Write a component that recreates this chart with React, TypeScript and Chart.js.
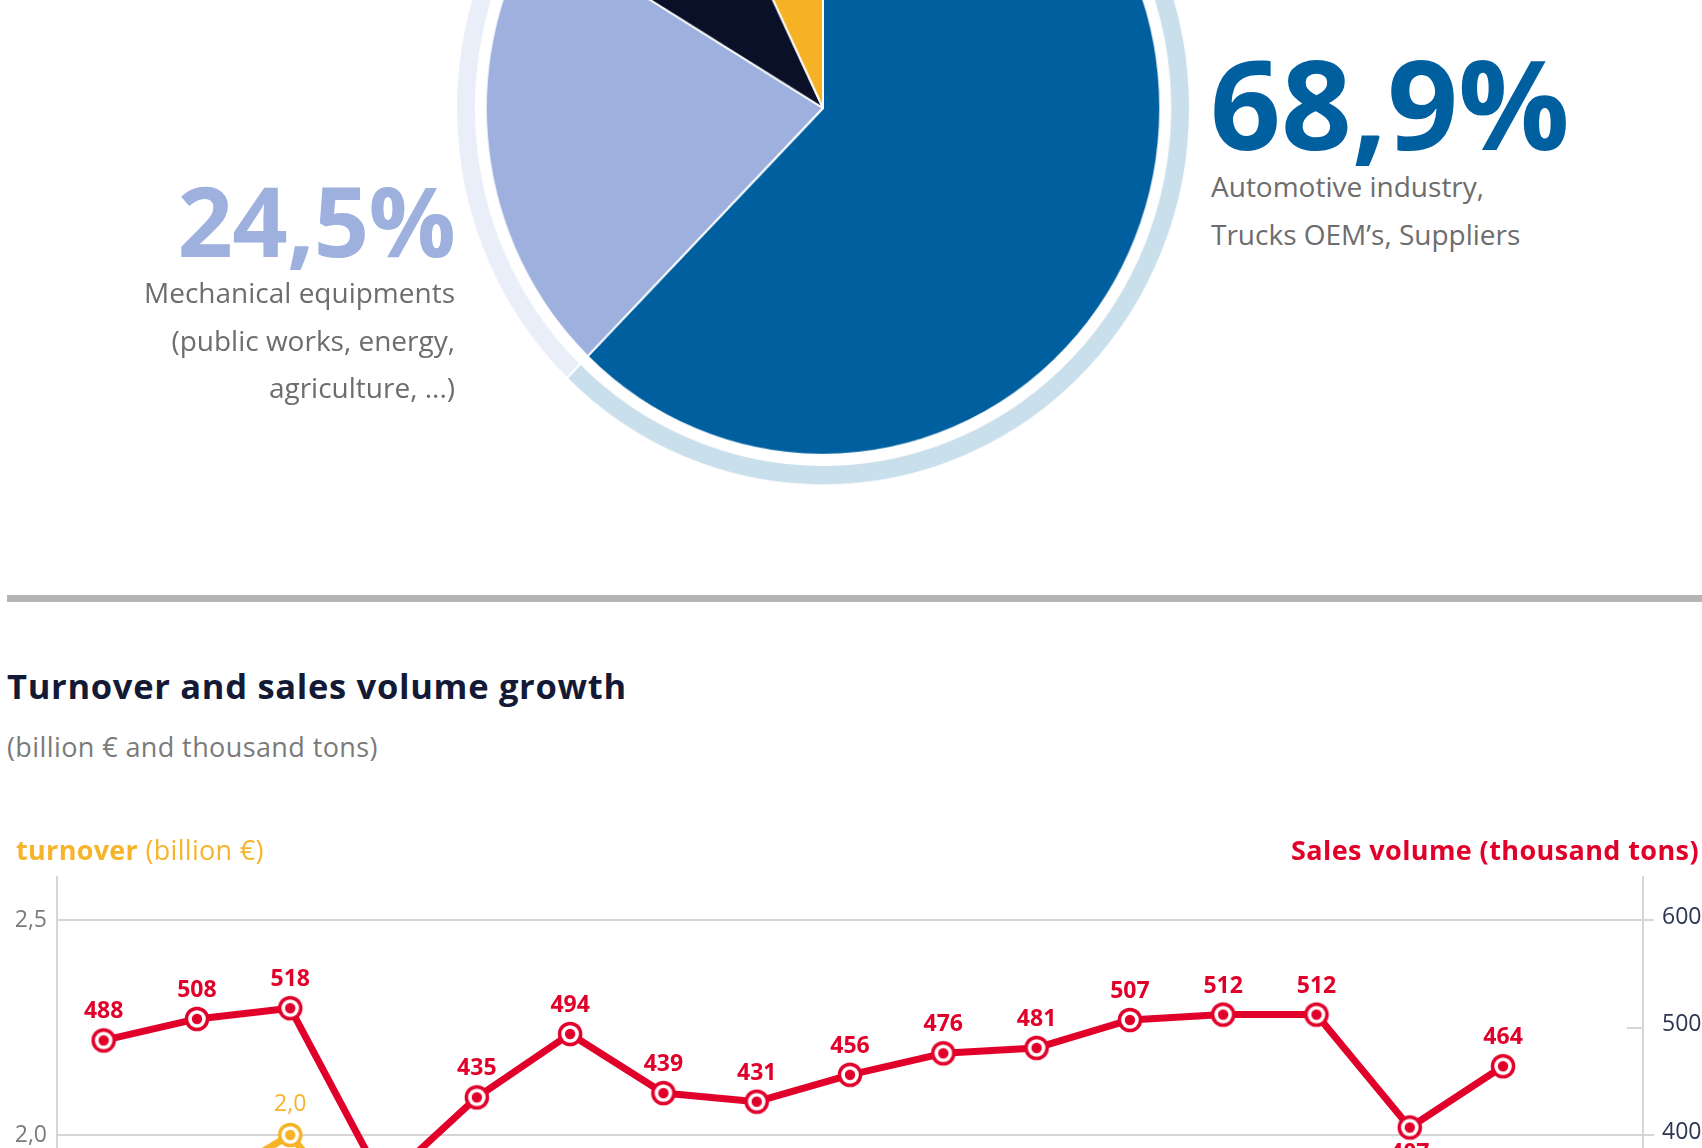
import React, { useEffect, useRef } from "react";
import { Chart, registerables } from "chart.js";

Chart.register(...registerables);

const PAGE_W = 1702;
const PAGE_H = 1148;
const FONT = '"Open Sans", "Noto Sans", sans-serif';

// ---------- Sector split (pie) ----------
const sectorNames = [
  "Automotive industry, Trucks OEM’s, Suppliers",
  "Mechanical equipments (public works, energy, agriculture, ...)",
  "Other industries",
  "Other",
];
// shares as drawn in the picture (angles of the visible slice edges)
const sectorShares = [62.3, 21.4, 9.25, 7.05];
const autoShareText = "68,9%";
const mechShareText = "24,5%";
const autoLines = ["Automotive industry,", "Trucks OEM’s, Suppliers"];
const mechLines = ["Mechanical equipments", "(public works, energy,", "agriculture, ...)"];

const sliceColors = ["#005f9f", "#9eb0dd", "#0b1029", "#f4b224"];
const ringColors = ["#c9dfec", "#e9eef8", "#d6d9e1", "#fbeac4"];

// ---------- Turnover & sales volume ----------
const years = [
  "2006", "2007", "2008", "2009", "2010", "2011", "2012", "2013", "2014",
  "2015", "2016", "2017", "2018", "2019", "2020", "2021", "2022",
];
const salesVolume = [488, 508, 518, 355, 435, 494, 439, 431, 456, 476, 481, 507, 512, 512, 407, 464];
// only the part of the turnover line that is visible in the picture
const turnover: (number | null)[] = [null, 1.87, 2.0, 1.73, null, null, null, null, null, null, null, null, null, null, null, null];
const innerTickValues = [500];

const RED = "#e1002a";
const YELLOW = "#f5b325";
const YELLOW_TEXT = "#f6b42c";
const GRID = "#d6d6d6";

type TxtProps = {
  left?: number;
  right?: number;
  baseline: number;
  size: number;
  lh?: number;
  weight?: number;
  color: string;
  ls?: number;
  align?: "left" | "right";
  children: React.ReactNode;
};

function Txt({ left, right, baseline, size, lh, weight = 400, color, ls = 0, align = "left", children }: TxtProps) {
  const L = lh ?? Math.round(size * 1.2);
  const top = baseline - ((L - 1.362 * size) / 2 + 1.069 * size);
  const style: React.CSSProperties = {
    position: "absolute",
    top,
    fontFamily: FONT,
    fontSize: size,
    lineHeight: L + "px",
    fontWeight: weight,
    color,
    letterSpacing: ls,
    whiteSpace: "nowrap",
    textAlign: align,
  };
  if (left !== undefined) style.left = left;
  if (right !== undefined) style.right = PAGE_W - right;
  return <div style={style}>{children}</div>;
}

function SectorPie() {
  const ref = useRef<HTMLCanvasElement>(null);
  useEffect(() => {
    const chart = new Chart(ref.current!, {
      type: "doughnut",
      data: {
        labels: sectorNames,
        datasets: [
          { data: sectorShares, backgroundColor: ringColors, borderColor: "#ffffff", borderWidth: 2, weight: 20 } as any,
          { data: sectorShares, backgroundColor: "rgba(0,0,0,0)", borderWidth: 0, weight: 10 } as any,
          { data: sectorShares, backgroundColor: sliceColors, borderColor: "#ffffff", borderWidth: 2, weight: 340 } as any,
        ],
      },
      options: {
        responsive: false,
        animation: false,
        cutout: 0,
        events: [],
        layout: { padding: 0 },
        plugins: { legend: { display: false }, tooltip: { enabled: false } },
      },
    });
    return () => chart.destroy();
  }, []);
  return (
    <div
      style={{
        position: "absolute",
        left: 452,
        top: -263,
        width: 742,
        height: 742,
        transform: "scale(0.992, 1.02)",
        transformOrigin: "50% 50%",
      }}
    >
      <canvas ref={ref} width={742} height={742} style={{ width: 742, height: 742, display: "block" }} />
    </div>
  );
}

function makeMarker(color: string): HTMLCanvasElement {
  const c = document.createElement("canvas");
  c.width = 28;
  c.height = 28;
  const g = c.getContext("2d")!;
  const dot = (r: number, col: string) => {
    g.beginPath();
    g.arc(14, 14, r, 0, Math.PI * 2);
    g.fillStyle = col;
    g.fill();
  };
  dot(12.3, color);
  dot(8.8, "#ffffff");
  dot(5.2, color);
  return c;
}

function TrendChart() {
  const ref = useRef<HTMLCanvasElement>(null);
  useEffect(() => {
    const labelCfg = [
      { font: `700 23px ${FONT}`, color: RED, gap: 22, below: 33, fmt: (v: number) => String(v) },
      { font: `500 23px ${FONT}`, color: YELLOW_TEXT, gap: 24, below: 34, fmt: (v: number) => v.toFixed(1).replace(".", ",") },
    ];
    const valueLabels = {
      id: "valueLabels",
      afterDatasetsDraw(chart: any) {
        const ctx = chart.ctx as CanvasRenderingContext2D;
        chart.data.datasets.forEach((ds: any, di: number) => {
          const cfg = labelCfg[di];
          const meta = chart.getDatasetMeta(di);
          meta.data.forEach((pt: any, i: number) => {
            const v = ds.data[i];
            if (v == null) return;
            const prev = ds.data[i - 1];
            const next = ds.data[i + 1];
            const below = prev != null && next != null && di === 0 && prev - v > 60 && next > v;
            ctx.save();
            ctx.font = cfg.font;
            ctx.fillStyle = cfg.color;
            ctx.textAlign = "center";
            ctx.textBaseline = "alphabetic";
            ctx.fillText(cfg.fmt(v), pt.x, below ? pt.y + cfg.below : pt.y - cfg.gap);
            ctx.restore();
          });
        });
      },
    };
    const innerTicks = {
      id: "innerTicks",
      afterDraw(chart: any) {
        const s = chart.scales.yR;
        const ctx = chart.ctx as CanvasRenderingContext2D;
        const x = chart.chartArea.right;
        ctx.save();
        ctx.strokeStyle = GRID;
        ctx.lineWidth = 2;
        innerTickValues.forEach((v) => {
          const y = Math.round(s.getPixelForValue(v));
          ctx.beginPath();
          ctx.moveTo(x - 16, y);
          ctx.lineTo(x, y);
          ctx.stroke();
        });
        ctx.restore();
      },
    };

    const chart = new Chart(ref.current!, {
      type: "line",
      data: {
        labels: years,
        datasets: [
          {
            label: "Sales volume (thousand tons)",
            data: salesVolume,
            yAxisID: "yR",
            borderColor: RED,
            backgroundColor: RED,
            borderWidth: 7,
            pointStyle: makeMarker(RED) as any,
            pointRadius: 13,
            tension: 0,
            borderJoinStyle: "round",
            borderCapStyle: "round",
            clip: false as any,
          },
          {
            label: "turnover (billion €)",
            data: turnover,
            yAxisID: "yL",
            borderColor: YELLOW,
            backgroundColor: YELLOW,
            borderWidth: 7,
            pointStyle: makeMarker(YELLOW) as any,
            pointRadius: 13,
            tension: 0,
            borderJoinStyle: "round",
            borderCapStyle: "round",
            clip: false as any,
          },
        ],
      },
      options: {
        responsive: false,
        animation: false,
        events: [],
        layout: { padding: { top: 77, left: 0, right: 0, bottom: 0 } },
        plugins: { legend: { display: false }, tooltip: { enabled: false } },
        scales: {
          x: {
            type: "category",
            offset: true,
            grid: { display: false },
            border: { display: false },
            ticks: { color: "#666", font: { family: FONT, size: 20 } },
            afterFit: (s: any) => {
              s.height = 40;
            },
          },
          yL: {
            type: "linear",
            position: "left",
            min: 1.0,
            max: 2.6,
            ticks: {
              stepSize: 0.5,
              includeBounds: false,
              padding: 10,
              color: "#7b7b7b",
              font: { family: FONT, size: 23 },
              callback: (v: any) => Number(v).toFixed(1).replace(".", ","),
            },
            grid: { color: GRID, lineWidth: 2, drawTicks: false },
            border: { color: GRID, width: 2 },
            afterFit: (s: any) => {
              s.width = 57;
            },
          },
          yR: {
            type: "linear",
            position: "right",
            min: 0,
            max: 640,
            ticks: {
              stepSize: 100,
              includeBounds: false,
              padding: 8,
              labelOffset: -3,
              color: "#2e3550",
              font: { family: FONT, size: 23 },
            },
            grid: {
              drawOnChartArea: false,
              drawTicks: true,
              tickLength: 11,
              lineWidth: 2,
              color: (c: any) => (c.tick && innerTickValues.includes(c.tick.value) ? "rgba(0,0,0,0)" : GRID),
            },
            border: { color: GRID, width: 2 },
            afterFit: (s: any) => {
              s.width = 59;
            },
          },
        } as any,
      },
      plugins: [valueLabels, innerTicks],
    });
    return () => chart.destroy();
  }, []);
  return (
    <canvas
      ref={ref}
      width={PAGE_W}
      height={805}
      style={{ position: "absolute", left: 0, top: 800, width: PAGE_W, height: 805 }}
    />
  );
}

export default function App() {
  return (
    <div
      style={{
        position: "fixed",
        left: 0,
        top: 0,
        width: PAGE_W,
        height: PAGE_H,
        overflow: "hidden",
        background: "#ffffff",
        fontFamily: FONT,
      }}
    >
      <SectorPie />

      <Txt left={1210} baseline={150} size={124} lh={124} weight={700} color="#005f9f" ls={0}>
        {autoShareText}
      </Txt>
      <Txt left={1211} baseline={197} size={28} lh={48.5} color="#6d6d6d">
        {autoLines.map((l, i) => (
          <div key={i}>{l}</div>
        ))}
      </Txt>

      <Txt right={455} baseline={256.7} size={97} lh={97} weight={700} color="#9eb0dd" ls={-0.8} align="right">
        {mechShareText}
      </Txt>
      <Txt right={455} baseline={304} size={28} lh={47.5} color="#6d6d6d" align="right">
        {mechLines.map((l, i) => (
          <div key={i}>{l}</div>
        ))}
      </Txt>

      <div style={{ position: "absolute", left: 7, top: 595, width: PAGE_W - 7, height: 7, background: "#b4b4b4" }} />

      <Txt left={7} baseline={699} size={34.5} weight={700} color="#141a35" ls={0.7}>
        Turnover and sales volume growth
      </Txt>
      <Txt left={7} baseline={757} size={27} color="#7a7a7a" ls={0.4}>
        (billion € and thousand tons)
      </Txt>

      <TrendChart />

      <Txt left={16} baseline={860} size={27} color={YELLOW_TEXT} ls={0.3}>
        <span style={{ fontWeight: 700 }}>turnover</span> (billion €)
      </Txt>
      <Txt right={1699} baseline={860} size={27} weight={700} color={RED} align="right" ls={0.4}>
        Sales volume (thousand tons)
      </Txt>
    </div>
  );
}
